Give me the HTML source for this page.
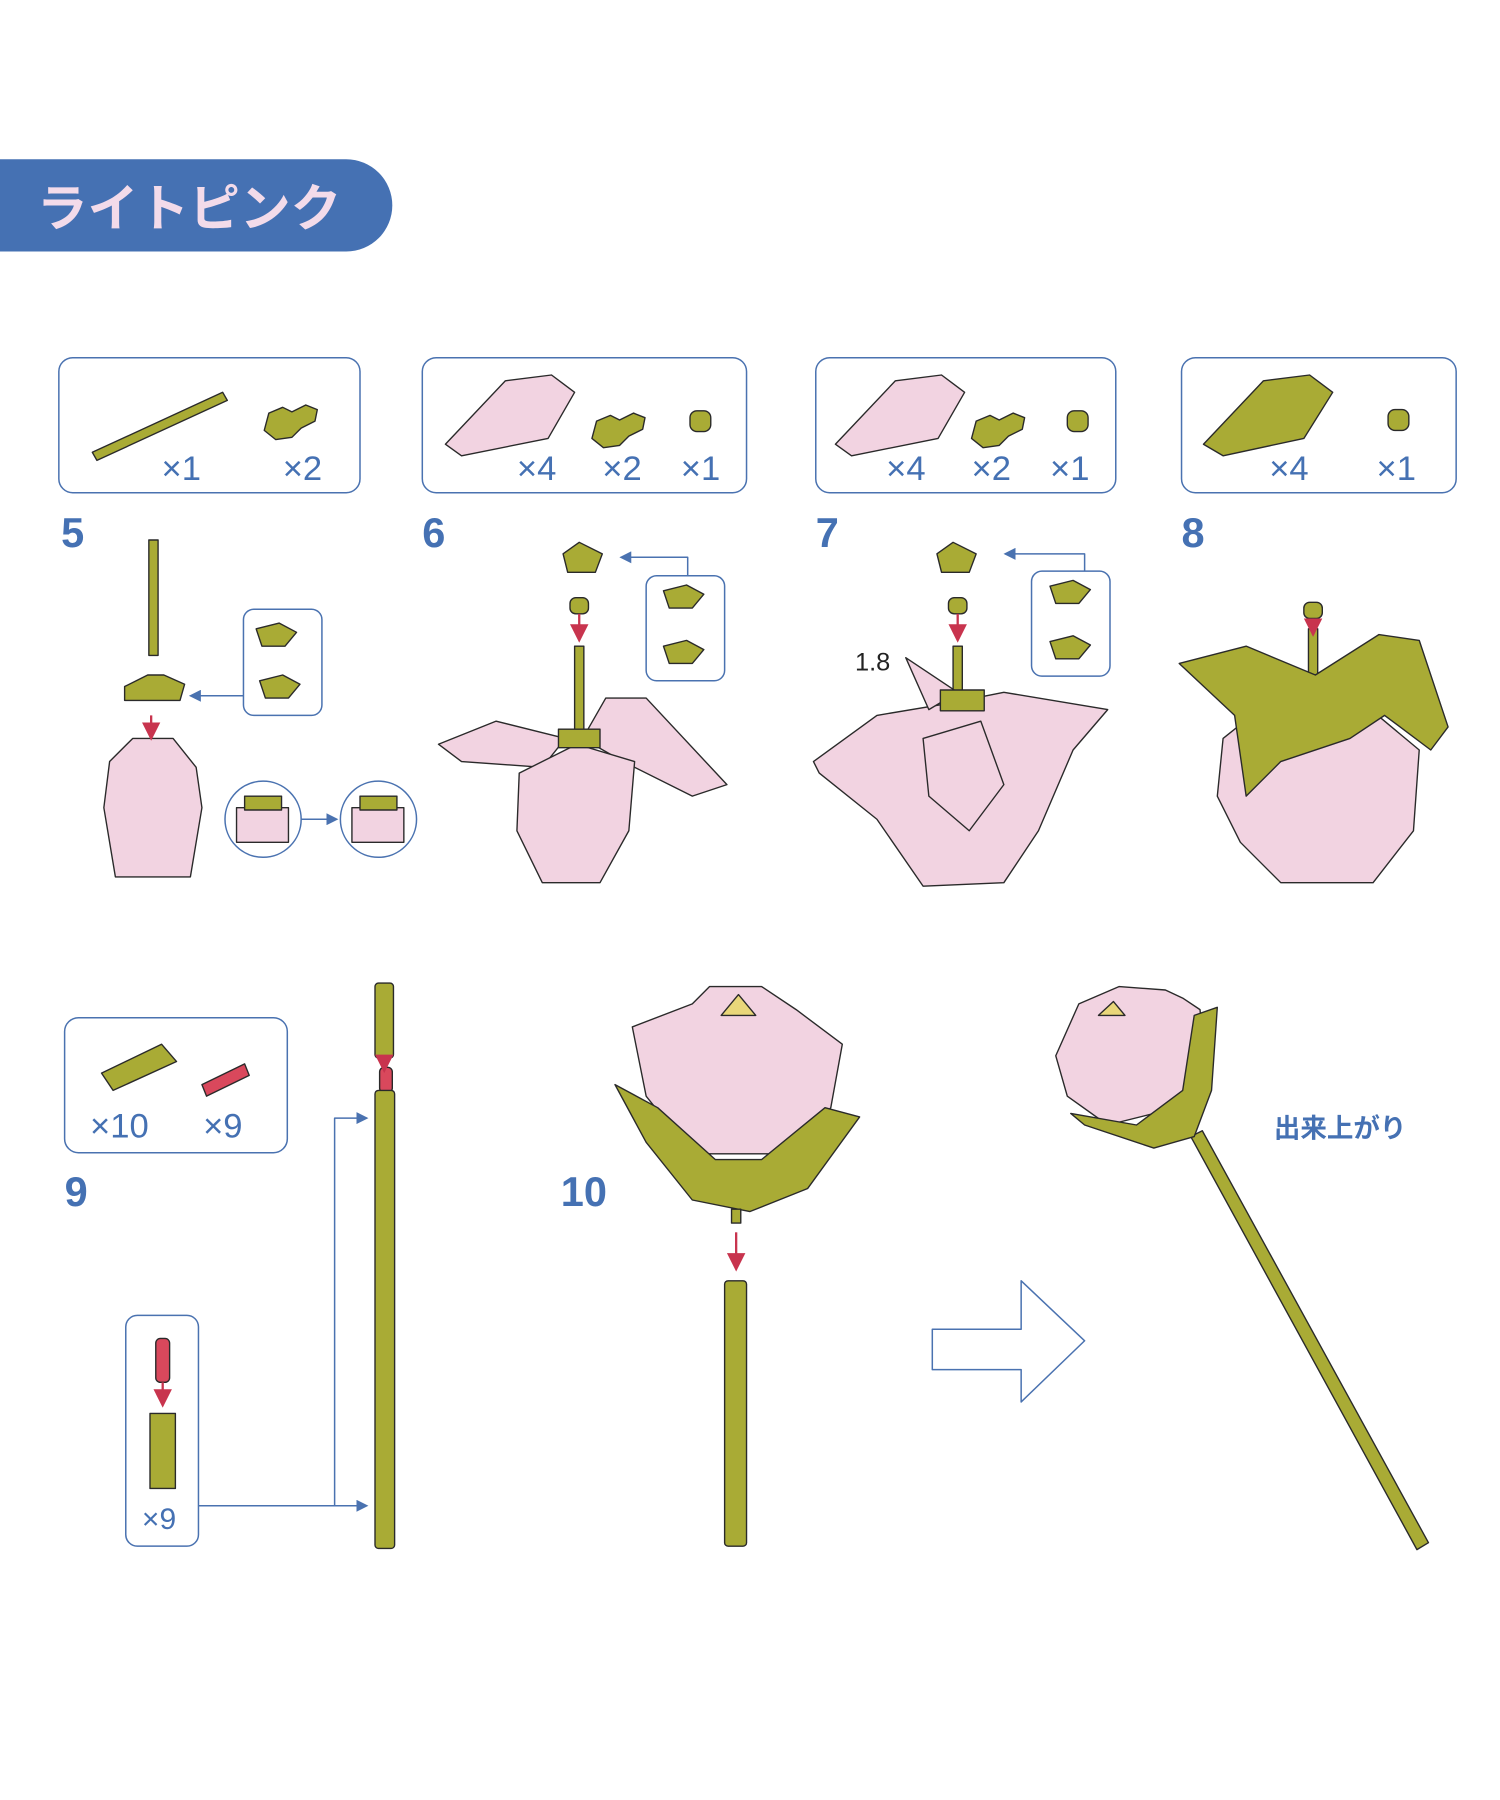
<!DOCTYPE html>
<html><head><meta charset="utf-8"><style>
html,body{margin:0;padding:0;background:#fff;}
svg{display:block;}
text{font-family:"Liberation Sans","Noto Sans CJK JP",sans-serif;}
</style></head><body>
<svg width="1500" height="1800" viewBox="0 0 1300 1560" xmlns="http://www.w3.org/2000/svg">
<defs>
<marker id="ab" markerWidth="8" markerHeight="8" refX="7" refY="4" orient="auto"><path d="M0,0 L8,4 L0,8 z" fill="#4a72b0"/></marker>
<marker id="ar" markerWidth="8" markerHeight="8" refX="7" refY="4" orient="auto"><path d="M0,0 L8,4 L0,8 z" fill="#c8344e"/></marker>
</defs>
<g stroke="#2a2a2a" stroke-width="1.2" stroke-linejoin="round">
<!-- banner -->
<path d="M0,138 H300 A40,40 0 0 1 300,218 H0 Z" fill="#4571b3" stroke="none"/>
<text x="32" y="196" font-size="44" fill="#f3dbea" stroke="none" font-weight="bold">ライトピンク</text>

<!-- parts boxes -->
<g fill="none" stroke="#4a72b0" stroke-width="1.3">
<rect x="51" y="310" width="261" height="117" rx="12"/>
<rect x="366" y="310" width="281" height="117" rx="12"/>
<rect x="707" y="310" width="260" height="117" rx="12"/>
<rect x="1024" y="310" width="238" height="117" rx="12"/>
<rect x="56" y="882" width="193" height="117" rx="12"/>
<rect x="109" y="1140" width="63" height="200" rx="10"/>
<rect x="211" y="528" width="68" height="92" rx="9"/>
<rect x="560" y="499" width="68" height="91" rx="9"/>
<rect x="894" y="495" width="68" height="91" rx="9"/>
<circle cx="228" cy="710" r="33"/>
<circle cx="328" cy="710" r="33"/>
<path d="M808,1152 H885 V1110 L940,1162 L885,1215 V1187 H808 Z"/>
<path d="M211,603 H165" marker-end="url(#ab)"/>
<path d="M261,710 H292" marker-end="url(#ab)"/>
<path d="M596,499 V483 H538" marker-end="url(#ab)"/>
<path d="M940,495 V480 H871" marker-end="url(#ab)"/>
<path d="M172,1305 H318" marker-end="url(#ab)"/>
<path d="M290,1305 V969 H318" marker-end="url(#ab)"/>
</g>
<g font-size="30" fill="#4571b3" stroke="none">
<text x="140" y="416">×1</text><text x="245" y="416">×2</text>
<text x="448" y="416">×4</text><text x="522" y="416">×2</text><text x="590" y="416">×1</text>
<text x="768" y="416">×4</text><text x="842" y="416">×2</text><text x="910" y="416">×1</text>
<text x="1100" y="416">×4</text><text x="1193" y="416">×1</text>
<text x="78" y="986">×10</text><text x="176" y="986">×9</text>
<text x="123" y="1325" font-size="26">×9</text>
</g>
<g font-size="36" fill="#4571b3" stroke="none" font-weight="bold">
<text x="53" y="474">5</text><text x="366" y="474">6</text><text x="707" y="474">7</text><text x="1024" y="474">8</text>
<text x="56" y="1045">9</text><text x="486" y="1045">10</text>
</g>
<text x="1104" y="986" font-size="23" fill="#4571b3" stroke="none" font-weight="bold">出来上がり</text>
<text x="741" y="581" font-size="22" fill="#222" stroke="none">1.8</text>

<!-- box contents -->
<g fill="#a9ab35">
<path d="M80,392 L193,340 L197,347 L84,399 Z"/>
<path d="M233,358 l12,-5 l8,4 l12,-6 l10,4 l-2,10 l-12,6 l-8,8 l-14,2 l-10,-8 z"/>
<path d="M517,365 l12,-5 l8,4 l12,-6 l10,4 l-2,10 l-12,6 l-8,8 l-14,2 l-10,-8 z"/>
<path d="M846,365 l12,-5 l8,4 l12,-6 l10,4 l-2,10 l-12,6 l-8,8 l-14,2 l-10,-8 z"/>
<rect x="598" y="356" width="18" height="18" rx="6"/>
<rect x="925" y="356" width="18" height="18" rx="6"/>
<rect x="1203" y="355" width="18" height="18" rx="6"/>
<path d="M1043,385 L1095,330 L1135,325 L1155,340 L1130,380 L1060,395 Z"/>
<path d="M88,930 L140,905 L153,920 L98,945 Z"/>
<path d="M130,1225 h22 v65 h-22 z"/>
</g>
<g fill="#f2d3e1">
<path d="M386,385 L438,330 L478,325 L498,340 L475,380 L400,395 Z"/>
<path d="M724,385 L776,330 L816,325 L836,340 L813,380 L738,395 Z"/>
</g>
<g fill="#d9485c">
<path d="M175,940 L212,922 L216,932 L179,950 Z"/>
<rect x="135" y="1160" width="12" height="38" rx="4"/>
<rect x="329" y="925" width="11" height="22" rx="4"/>
</g>

<!-- step 5 -->
<rect x="129" y="468" width="8" height="100" fill="#a9ab35"/>
<path d="M108,595 l20,-10 h14 l18,8 l-4,14 h-48 z" fill="#a9ab35"/>
<path d="M95,660 L115,640 H150 L170,665 L175,700 L165,760 H100 L90,700 Z" fill="#f2d3e1"/>
<path d="M222,545 l20,-5 l15,8 l-10,12 l-20,0z M225,590 l20,-5 l15,8 l-10,12 l-20,0z" fill="#a9ab35"/>
<path d="M205,700 h45 v30 h-45z M305,700 h45 v30 h-45z" fill="#f2d3e1"/>
<path d="M212,690 h32 v12 h-32z M312,690 h32 v12 h-32z" fill="#a9ab35"/>

<!-- step 6 -->
<rect x="498" y="560" width="8" height="75" fill="#a9ab35"/>
<path d="M488,480 l14,-10 l20,10 l-6,16 h-24 z M575,512 l20,-5 l15,8 l-10,12 l-20,0z M575,560 l20,-5 l15,8 l-10,12 l-20,0z" fill="#a9ab35"/>
<rect x="494" y="518" width="16" height="14" rx="5" fill="#a9ab35"/>
<path d="M380,645 L430,625 L490,640 L470,665 L400,660 Z" fill="#f2d3e1"/>
<path d="M505,640 L525,605 L560,605 L630,680 L600,690 L540,660 Z" fill="#f2d3e1"/>
<path d="M450,670 L500,645 L550,660 L545,720 L520,765 L470,765 L448,720 Z" fill="#f2d3e1"/>
<path d="M484,632 h36 v16 h-36z" fill="#a9ab35"/>

<!-- step 7 -->
<rect x="826" y="560" width="8" height="45" fill="#a9ab35"/>
<path d="M812,480 l14,-10 l20,10 l-6,16 h-24 z M910,508 l20,-5 l15,8 l-10,12 l-20,0z M910,556 l20,-5 l15,8 l-10,12 l-20,0z" fill="#a9ab35"/>
<rect x="822" y="518" width="16" height="14" rx="5" fill="#a9ab35"/>
<path d="M705,660 L760,620 L820,610 L870,600 L960,615 L930,650 L900,720 L870,765 L800,768 L760,710 L710,670 Z" fill="#f2d3e1"/>
<path d="M785,570 L830,600 L805,615 Z" fill="#f2d3e1"/>
<path d="M815,598 h38 v18 h-38z" fill="#a9ab35"/>
<path d="M800,640 L850,625 L870,680 L840,720 L805,690 Z" fill="#f2d3e1"/>

<!-- step 8 -->
<rect x="1134" y="545" width="8" height="40" fill="#a9ab35"/>
<rect x="1130" y="522" width="16" height="14" rx="5" fill="#a9ab35"/>
<path d="M1060,640 L1110,600 L1170,600 L1230,650 L1225,720 L1190,765 L1110,765 L1075,730 L1055,690 Z" fill="#f2d3e1"/>
<path d="M1022,575 L1080,560 L1140,585 L1195,550 L1230,555 L1255,630 L1240,650 L1200,620 L1170,640 L1110,660 L1080,690 L1070,620 Z" fill="#a9ab35"/>

<!-- step 9 stem -->
<rect x="325" y="852" width="16" height="65" rx="3" fill="#a9ab35"/>
<path d="M333,917 V928" stroke="#c8344e" stroke-width="2" marker-end="url(#ar)"/>
<rect x="325" y="945" width="17" height="397" rx="3" fill="#a9ab35"/>
<path d="M141,1198 V1218" stroke="#c8344e" stroke-width="2" marker-end="url(#ar)"/>
<path d="M131,620 V640" stroke="#c8344e" stroke-width="2" marker-end="url(#ar)"/>
<path d="M502,532 V555" stroke="#c8344e" stroke-width="2" marker-end="url(#ar)"/>
<path d="M830,532 V555" stroke="#c8344e" stroke-width="2" marker-end="url(#ar)"/>
<path d="M1138,536 V550" stroke="#c8344e" stroke-width="2" marker-end="url(#ar)"/>

<!-- step 10 -->
<path d="M548,890 L600,870 L615,855 L660,855 L690,875 L730,905 L720,960 L690,1000 L600,1000 L560,950 Z" fill="#f2d3e1"/>
<path d="M625,880 L640,862 L655,880 Z" fill="#e9d77a"/>
<path d="M533,940 L570,960 L620,1005 L660,1005 L715,960 L745,968 L700,1030 L650,1050 L600,1040 L560,990 Z" fill="#a9ab35"/>
<rect x="634" y="1048" width="8" height="12" fill="#a9ab35"/>
<path d="M638,1068 V1100" stroke="#c8344e" stroke-width="2" marker-end="url(#ar)"/>
<rect x="628" y="1110" width="19" height="230" rx="3" fill="#a9ab35"/>

<!-- final -->
<path d="M1032,985 L1042,980 L1238,1337 L1228,1343 Z" fill="#a9ab35"/>
<path d="M915,915 L935,870 L970,855 L1010,858 L1025,865 L1040,875 L1045,925 L1020,960 L960,975 L925,950 Z" fill="#f2d3e1"/>
<path d="M952,880 L965,868 L975,880 Z" fill="#e9d77a"/>
<path d="M928,965 L985,975 L1025,945 L1035,880 L1055,873 L1050,945 L1035,985 L1000,995 L940,975 Z" fill="#a9ab35"/>
</g>
</svg>
</body></html>
